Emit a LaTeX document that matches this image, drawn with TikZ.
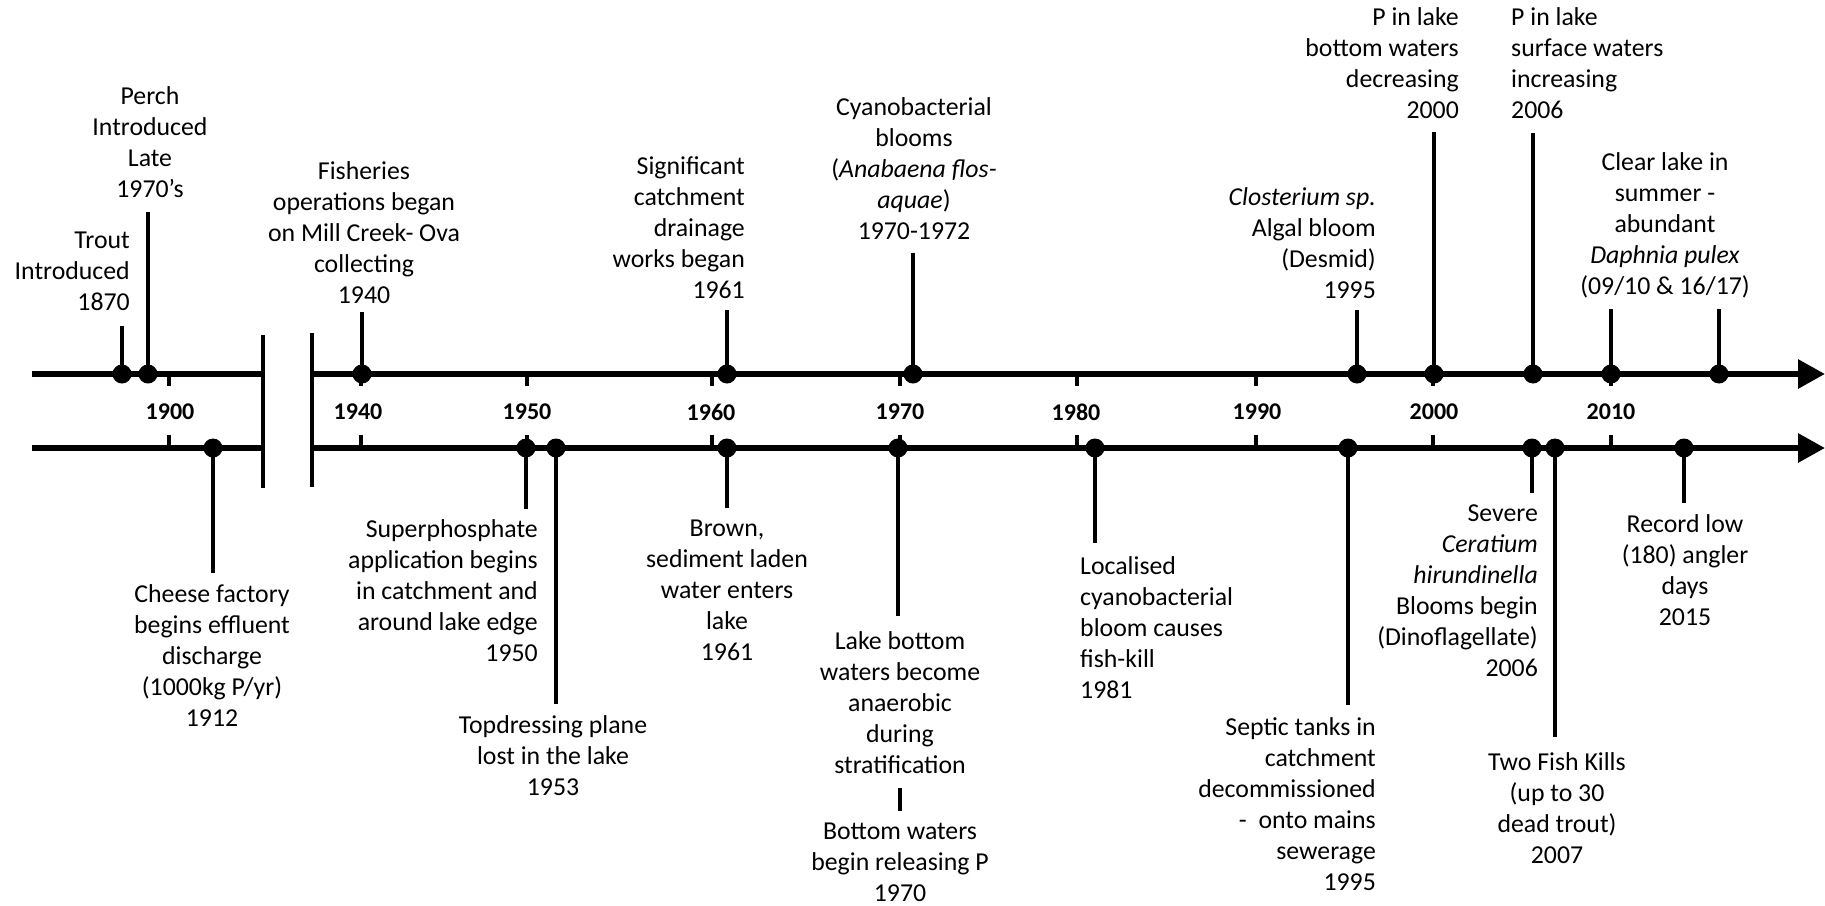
\documentclass[tikz,border=0pt]{standalone}
\usepackage{fontspec}
\setmainfont{Carlito}
\usetikzlibrary{arrows.meta}
\begin{document}
\begin{tikzpicture}[x=1pt,y=-1pt,
  axis/.style={line width=6pt},
  stem/.style={line width=4pt},
  tickmark/.style={line width=3.5pt},
  brk/.style={line width=4pt},
  dot/.style={circle,fill=black,inner sep=0pt,minimum size=19pt},
  lbl/.style={font=\fontsize{25.8}{31}\selectfont,inner sep=0pt},
  lblc/.style={lbl,anchor=north,align=center},
  lblr/.style={lbl,anchor=north east,align=right},
  lbll/.style={lbl,anchor=north west,align=left},
  yr/.style={font=\fontsize{24}{29}\selectfont\bfseries,inner sep=0pt},
  tip/.style={-{Triangle[length=27pt,width=28pt]}}
]
\useasboundingbox (0,0) rectangle (1825,905);

% axes
\coordinate (tA) at (32,374);  \coordinate (tB) at (263,374);
\coordinate (tC) at (312,374); \coordinate (tE) at (1825,374);
\coordinate (bA) at (32,448);  \coordinate (bB) at (263,448);
\coordinate (bC) at (312,448); \coordinate (bE) at (1825,448);
\draw[axis] (tA) -- (tB);
\draw[axis,tip] (tC) -- (tE);
\draw[axis] (bA) -- (bB);
\draw[axis,tip] (bC) -- (bE);

% break bars
\coordinate (k1a) at (263,335); \coordinate (k1b) at (263,488);
\coordinate (k2a) at (312,333); \coordinate (k2b) at (312,487);
\draw[brk] (k1a) -- (k1b);
\draw[brk] (k2a) -- (k2b);

% ticks and year labels
\foreach \tx/\lx/\yv in {169/170/1900,361/358/1940,527/527/1950,712/711/1960,900/900/1970,1077/1076/1980,1256/1257/1990,1433/1434/2000,1611/1611/2010}{
  \coordinate (tt\yv a) at (\tx,374); \coordinate (tt\yv b) at (\tx,386);
  \coordinate (bt\yv a) at (\tx,435); \coordinate (bt\yv b) at (\tx,448);
  \draw[tickmark] (tt\yv a) -- (tt\yv b);
  \draw[tickmark] (bt\yv a) -- (bt\yv b);
  \node[yr] (yl\yv) at (\lx,412) {\yv};
}

% top events: name/x/stem end
\foreach \n/\x/\e in {trout/122/326,perch/148/212,fish/362/312,drain/727/310,cyano/913/253,clost/1357/310,pbot/1434/132,psurf/1533/133,clearA/1611/309,clearB/1719/309}{
  \node[dot] (d\n) at (\x,374) {};
  \coordinate (e\n) at (\x,\e);
  \draw[stem] (d\n.center) -- (e\n);
}
% bottom events
\foreach \n/\x/\e in {cheese/213/573,super/526/509,topd/556/704,brown/727/508,lakeb/898/616,local/1095/543,septic/1348/705,severe/1532/493,twofish/1555/737,record/1684/503}{
  \node[dot] (d\n) at (\x,448) {};
  \coordinate (e\n) at (\x,\e);
  \draw[stem] (d\n.center) -- (e\n);
}

% top labels
\node[lblr] (Ltrout) at (130,227) {\strut Trout\\Introduced\\1870};
\node[lblc] (Lperch) at (150,83) {\strut Perch\\Introduced\\Late\\1970’s};
\node[lblc] (Lfish) at (364,158) {\strut Fisheries\\operations began\\on Mill Creek- Ova\\collecting\\1940};
\node[lblr] (Ldrain) at (745,153) {\strut Significant\\catchment\\drainage\\works began\\1961};
\node[lblc] (Lcyano) at (914,94) {\strut Cyanobacterial\\blooms\\(\textit{Anabaena flos-}\\\textit{aquae})\\1970-1972};
\node[lblr] (Lclost) at (1376,184) {\strut\textit{Closterium sp.}\\Algal bloom\\(Desmid)\\1995};
\node[lblr] (Lpbot) at (1459,4) {\strut P in lake\\bottom waters\\decreasing\\2000};
\node[lbll] (Lpsurf) at (1511,4) {\strut P in lake\\surface waters\\increasing\\2006};
\node[lblc] (Lclear) at (1665,149) {\strut Clear lake in\\summer -\\abundant\\\textit{Daphnia pulex}\\(09/10 \& 16/17)};

% bottom labels
\node[lblc] (Lcheese) at (212,581) {\strut Cheese factory\\begins effluent\\discharge\\(1000kg P/yr)\\1912};
\node[lblr] (Lsuper) at (538,516) {\strut Superphosphate\\application begins\\in catchment and\\around lake edge\\1950};
\node[lblc] (Ltopd) at (553,712) {\strut Topdressing plane\\lost in the lake\\1953};
\node[lblc] (Lbrown) at (727,515) {\strut Brown,\\sediment laden\\water enters\\lake\\1961};
\node[lblc] (Llakeb) at (900,628) {\strut Lake bottom\\waters become\\anaerobic\\during\\stratification};
\node[lblc] (Lbotw) at (900,818) {\strut Bottom waters\\begin releasing P\\1970};
\node[lbll] (Llocal) at (1080,553) {\strut Localised\\cyanobacterial\\bloom causes\\fish-kill\\1981};
\node[lblr] (Lseptic) at (1376,714) {\strut Septic tanks in\\catchment\\decommissioned\\-~~onto mains\\sewerage\\1995};
\node[lblr] (Lsevere) at (1538,500) {\strut Severe\\\textit{Ceratium}\\\textit{hirundinella}\\Blooms begin\\(Dinoflagellate)\\2006};
\node[lblc] (Ltwofish) at (1557,749) {\strut Two Fish Kills\\(up to 30\\dead trout)\\2007};
\node[lblc] (Lrecord) at (1685,511) {\strut Record low\\(180) angler\\days\\2015};

% link between the two 1970 bottom labels
\coordinate (s1) at (900,788); \coordinate (s2) at (900,811);
\draw[stem] (s1) -- (s2);
\end{tikzpicture}
\end{document}
